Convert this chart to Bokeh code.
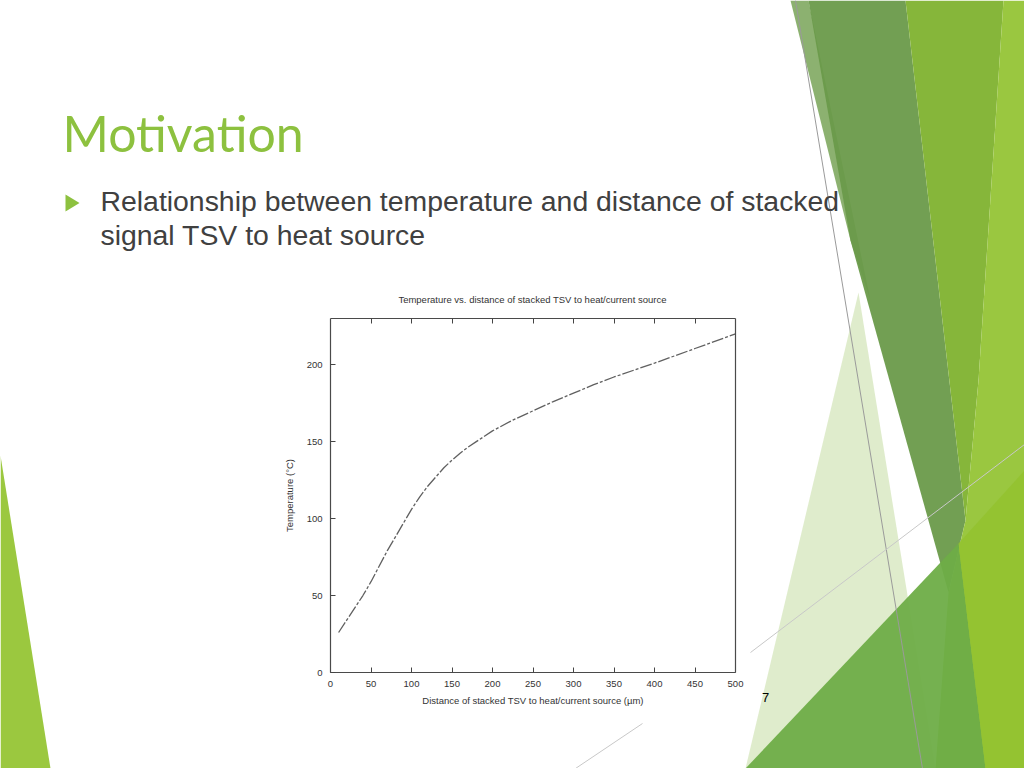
from bokeh.plotting import figure
from bokeh.models import Range1d, LinearAxis, FixedTicker
from bokeh.core.properties import value
from bokeh.embed import file_html
from bokeh.resources import INLINE

# ---- chart data ----
distance_um = [10, 20, 30, 40, 50, 60, 70, 80, 90, 100, 110, 120, 130, 140, 150, 160,
               170, 180, 190, 200, 225, 250, 275, 300, 325, 350, 375, 400, 450, 500]
temperature_c = [26, 34, 42, 50, 59, 69, 79, 88, 97, 106, 114, 121, 127, 133, 138, 142.5,
                 146.5, 150, 153.5, 157, 164, 170, 176, 181.5, 187, 192, 196.5, 201, 210.5, 220]
x_ticks = [0, 50, 100, 150, 200, 250, 300, 350, 400, 450, 500]
y_ticks = [0, 50, 100, 150, 200]
x_max, y_max = 500, 230

slide_title = "Motivation"
bullet_lines = ["Relationship between temperature and distance of stacked",
                "signal TSV to heat source"]
chart_title = "Temperature vs. distance of stacked TSV to heat/current source"
x_label = "Distance of stacked TSV to heat/current source (\u00b5m)"
y_label = "Temperature (\u00b0C)"
page_number = "7"

# ---- page geometry in canvas pixels ----
W, H = 1024, 768
FL, FR, FT, FB = 330, 735, 318, 672   # chart plot area

p = figure(width=W, height=H, x_range=Range1d(0, W), y_range=Range1d(H, 0),
           x_axis_type=None, y_axis_type=None, output_backend="svg",
           toolbar_location=None, min_border=0)
p.background_fill_color = "white"
p.border_fill_color = "white"
p.outline_line_color = None
p.xgrid.visible = False
p.ygrid.visible = False

# chart ranges placed so that the chart's data area sits at FL..FR / FT..FB
kx = (FR - FL) / x_max
ky = (FB - FT) / y_max
p.extra_x_ranges = {"cx": Range1d(-FL / kx, (W - FL) / kx)}
p.extra_y_ranges = {"cy": Range1d(-(H - FB) / ky, FB / ky)}

# ---- slide decoration ----
shapes = [
    ([0, 50, 0], [455, 768, 768], "#9BC83F", 1.0),
    ([858, 935, 745], [292, 768, 768], "#DCEAC6", 0.9),
    ([790, 808, 870, 850], [0, 0, 300, 240], "#7FA860", 0.9),
    ([808, 905, 965, 948, 850], [0, 0, 520, 592, 240], "#6A9A4A", 0.95),
    ([905, 1003, 978, 965], [0, 0, 380, 520], "#86B63A", 1.0),
    ([1003, 1024, 1024, 935, 948, 965, 978], [0, 0, 768, 768, 592, 520, 380], "#9AC740", 1.0),
    ([745, 958, 985], [768, 543, 768], "#6EAD47", 0.95),
    ([958, 1024, 1024, 985], [543, 470, 768, 768], "#93C230", 0.9),
]
for xs, ys, col, a in shapes:
    p.patch(xs, ys, fill_color=col, fill_alpha=a, line_color=None)

thin_lines = [
    ([795, 922], [0, 768], "#9a9a9a"),
    ([750, 1024], [652, 444], "#c8c8c8"),
    ([575, 642], [768, 723], "#c8c8c8"),
]
for xs, ys, col in thin_lines:
    p.line(xs, ys, line_color=col, line_width=1)

# bullet marker
p.patch([65, 65, 79], [194, 211, 202.5], fill_color="#8DC13F", line_color=None)

# slide texts
p.text(x=[62], y=[132], text=[slide_title], text_font=value("Lato"),
       text_font_size=value("50px"), text_color="#8DC13F", text_baseline="alphabetic")
p.text(x=[100, 100], y=[200.5, 234.5], text=bullet_lines,
       text_font=value("Liberation Sans"), text_font_size=value("28.4px"),
       text_color="#404040", text_baseline="alphabetic")
p.text(x=[765], y=[697], text=[page_number], text_font=value("Liberation Sans"),
       text_font_size=value("13px"), text_color="#000000", text_align="center",
       text_baseline="middle")

# ---- chart ----
FONT = "Liberation Sans"
TICK_FS = "9.5px"
p.text(x=[532], y=[299], text=[chart_title], text_font=value(FONT),
       text_font_size=value(TICK_FS), text_color="#333333", text_align="center",
       text_baseline="middle")

p.line(distance_um, temperature_c, x_range_name="cx", y_range_name="cy",
       line_color="#606060", line_width=1.3, line_dash="12 2 3 2")


def make_axis(ticks, loc, bounds, labels=True):
    ax = LinearAxis(x_range_name="cx", y_range_name="cy", fixed_location=loc,
                    bounds=bounds, ticker=FixedTicker(ticks=ticks))
    ax.axis_line_color = "#4a4a4a"
    ax.axis_line_width = 1.2
    ax.major_tick_in = 5
    ax.major_tick_out = 0
    ax.minor_tick_line_color = None
    ax.major_tick_line_color = "#444444"
    ax.major_label_text_font = FONT
    ax.major_label_text_font_size = TICK_FS
    ax.major_label_text_color = "#333333"
    ax.major_label_standoff = 8
    ax.axis_label_text_font = FONT
    ax.axis_label_text_font_size = TICK_FS
    ax.axis_label_text_font_style = "normal"
    ax.axis_label_text_color = "#333333"
    if not labels:
        ax.major_label_text_alpha = 0
    return ax


bottom = make_axis(x_ticks, 0, (0, x_max))
bottom.axis_label = x_label
bottom.axis_label_standoff = 5
p.add_layout(bottom, "below")

left = make_axis(y_ticks, 0, (0, y_max))
left.axis_label = y_label
left.axis_label_standoff = 9
p.add_layout(left, "left")

top = make_axis(x_ticks[1:-1], y_max, (0, x_max), labels=False)
p.add_layout(top, "above")

right = make_axis([], x_max, (0, y_max), labels=False)
p.add_layout(right, "right")

open("out.html", "w").write(file_html(p, INLINE))
